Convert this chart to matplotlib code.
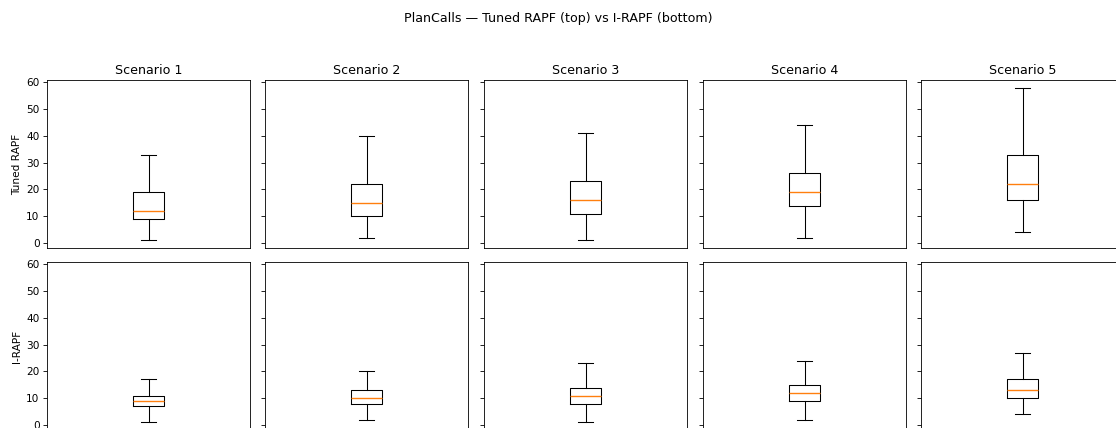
import matplotlib
matplotlib.use("Agg")
import matplotlib.pyplot as plt

scenarios = ["Scenario 1", "Scenario 2", "Scenario 3", "Scenario 4", "Scenario 5"]
row_labels = ["Tuned RAPF", "I-RAPF"]

# five-number summaries: whislo, q1, med, q3, whishi
tuned_lo = [1, 2, 1, 2, 4]
tuned_q1 = [9, 10, 11, 14, 16]
tuned_med = [12, 15, 16, 19, 22]
tuned_q3 = [19, 22, 23, 26, 33]
tuned_hi = [33, 40, 41, 44, 58]

irapf_lo = [1, 2, 1, 2, 4]
irapf_q1 = [7, 8, 8, 9, 10]
irapf_med = [9, 10, 11, 12, 13]
irapf_q3 = [11, 13, 14, 15, 17]
irapf_hi = [17, 20, 23, 24, 27]

rows = [
    (tuned_lo, tuned_q1, tuned_med, tuned_q3, tuned_hi),
    (irapf_lo, irapf_q1, irapf_med, irapf_q3, irapf_hi),
]

DPI = 76
W, H = 1116, 428
fig = plt.figure(figsize=(W / DPI, H / DPI), dpi=DPI)
lefts = [47, 265, 484, 703, 921]
tops = [80, 262]
aw, ah = 203, 168

axes = []
for r in range(2):
    for c in range(5):
        kw = {}
        if axes:
            kw["sharey"] = axes[0]
        ax = fig.add_axes([lefts[c] / W, (H - tops[r] - ah) / H, aw / W, ah / H], **kw)
        lo, q1, med, q3, hi = (s[c] for s in rows[r])
        stats = [dict(whislo=lo, q1=q1, med=med, q3=q3, whishi=hi, fliers=[])]
        ax.bxp(stats, positions=[1], widths=0.15,
               medianprops=dict(color="C1", linewidth=1.3))
        ax.set_xlim(0.5, 1.5)
        ax.set_xticks([])
        if r == 0:
            ax.set_title(scenarios[c])
        if c == 0:
            ax.set_ylabel(row_labels[r])
        else:
            ax.tick_params(labelleft=False)
        axes.append(ax)

fig.suptitle("PlanCalls \u2014 Tuned RAPF (top) vs I-RAPF (bottom)", y=0.972)
fig.savefig("out.png", dpi=DPI)
